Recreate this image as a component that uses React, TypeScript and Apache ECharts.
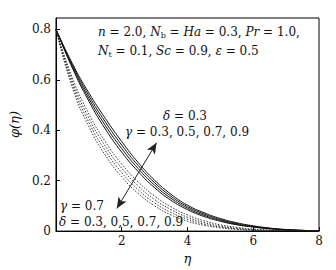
import React, { useEffect, useRef } from "react";
import * as echarts from "echarts";

const eta = [0, 0.5, 1, 1.5, 2, 2.5, 3, 3.5, 4, 4.5, 5, 5.5, 6, 6.5, 7, 7.5, 8];

// solid: delta = 0.3, gamma = 0.3, 0.5, 0.7, 0.9
const solidG03 = [0.8, 0.646, 0.515, 0.405, 0.313, 0.236, 0.172, 0.122, 0.085, 0.058, 0.039, 0.025, 0.016, 0.009, 0.005, 0.002, 0];
const solidG05 = [0.8, 0.652, 0.526, 0.419, 0.327, 0.248, 0.182, 0.13, 0.091, 0.063, 0.042, 0.027, 0.017, 0.01, 0.005, 0.002, 0];
const solidG07 = [0.8, 0.658, 0.537, 0.433, 0.341, 0.26, 0.192, 0.138, 0.097, 0.068, 0.046, 0.03, 0.019, 0.011, 0.006, 0.003, 0];
const solidG09 = [0.8, 0.664, 0.548, 0.447, 0.355, 0.272, 0.202, 0.146, 0.103, 0.073, 0.05, 0.033, 0.021, 0.012, 0.006, 0.003, 0];

// dotted: gamma = 0.7, delta = 0.3, 0.5, 0.7, 0.9
const dotD03 = [0.8, 0.607, 0.465, 0.355, 0.266, 0.195, 0.139, 0.096, 0.064, 0.041, 0.025, 0.015, 0.008, 0.004, 0.002, 0.001, 0];
const dotD05 = [0.8, 0.594, 0.448, 0.337, 0.249, 0.179, 0.125, 0.085, 0.055, 0.034, 0.02, 0.011, 0.006, 0.003, 0.001, 0.0005, 0];
const dotD07 = [0.8, 0.581, 0.431, 0.319, 0.232, 0.164, 0.112, 0.074, 0.047, 0.028, 0.016, 0.009, 0.004, 0.002, 0.001, 0, 0];
const dotD09 = [0.8, 0.568, 0.414, 0.301, 0.215, 0.149, 0.1, 0.064, 0.039, 0.023, 0.013, 0.007, 0.003, 0.001, 0.0005, 0, 0];

const yTicks = [0, 0.2, 0.4, 0.6, 0.8];
const xTicks = [2, 4, 6, 8];

const FONT = "DejaVu Serif";

export default function App() {
  const ref = useRef<HTMLDivElement>(null);
  useEffect(() => {
    if (!ref.current) return;
    const chart = echarts.init(ref.current, null, { renderer: "svg" });
    const zip = (ys: number[]) => eta.map((x, i) => [x, ys[i]]);
    const solid = [solidG03, solidG05, solidG07, solidG09];
    const dotted = [dotD03, dotD05, dotD07, dotD09];
    const series: any[] = [];
    solid.forEach((s) =>
      series.push({
        type: "line",
        data: zip(s),
        showSymbol: false,
        smooth: 0.5,
        lineStyle: { color: "#111", width: 1, type: "solid" },
        silent: true,
      })
    );
    dotted.forEach((s) =>
      series.push({
        type: "line",
        data: zip(s),
        showSymbol: false,
        smooth: 0.5,
        lineStyle: { color: "#222", width: 0.9, type: [1.5, 1.5] },
        silent: true,
      })
    );
    series[0].markLine = {
      silent: true,
      symbol: ["arrow", "arrow"],
      symbolSize: [7, 11],
      label: { show: false },
      lineStyle: { color: "#222", width: 1, type: "solid" },
      data: [[{ coord: [1.85, 0.09] }, { coord: [3.06, 0.35] }]],
    };
    const rich = {
      i: { fontFamily: FONT, fontStyle: "italic", fontSize: 12, color: "#111" },
      s: { fontFamily: FONT, fontSize: 8, color: "#111", padding: [7, 0, 0, 0] },
    };
    const rich2 = {
      i: { fontFamily: FONT, fontStyle: "italic", fontSize: 12, color: "#111" },
    };
    chart.setOption({
      animation: false,
      backgroundColor: "#fff",
      grid: {
        left: 50,
        right: 17,
        top: 18,
        bottom: 37,
        show: true,
        borderColor: "#000",
        borderWidth: 1,
      },
      xAxis: {
        type: "value",
        min: 0,
        max: 8,
        interval: 2,
        name: "η",
        nameLocation: "middle",
        nameGap: 19,
        nameTextStyle: { fontFamily: FONT, fontStyle: "italic", fontSize: 13, color: "#111" },
        axisLine: { show: true, lineStyle: { color: "#000", width: 1 } },
        axisTick: { show: true, inside: true, length: 4, lineStyle: { color: "#000" } },
        axisLabel: {
          showMinLabel: false,
          fontFamily: FONT,
          fontSize: 12,
          color: "#111",
          margin: 4,
          formatter: (v: number) => (xTicks.includes(v) ? String(v) : ""),
        },
        splitLine: { show: false },
      },
      yAxis: {
        type: "value",
        min: 0,
        max: 0.845,
        interval: 0.2,
        name: "φ(η)",
        nameLocation: "middle",
        nameGap: 33,
        nameRotate: 90,
        nameTextStyle: { fontFamily: FONT, fontStyle: "italic", fontSize: 13, color: "#111" },
        axisLine: { show: true, lineStyle: { color: "#000", width: 1 } },
        axisTick: { show: true, inside: true, length: 4, lineStyle: { color: "#000" } },
        axisLabel: {
          showMaxLabel: false,
          fontFamily: FONT,
          fontSize: 12,
          color: "#111",
          margin: 5,
          formatter: (v: number) => {
            const t = yTicks.find((k) => Math.abs(k - v) < 1e-6);
            return t === undefined ? "" : t === 0 ? "0" : t.toFixed(1);
          },
        },
        splitLine: { show: false },
      },
      graphic: [
        {
          type: "text",
          left: 98,
          top: 26,
          silent: true,
          style: {
            text: "{i|n} = 2.0, {i|N}{s|b} = {i|Ha} = 0.3, {i|Pr} = 1.0,",
            fontFamily: FONT,
            fontSize: 12,
            fill: "#111",
            rich,
          },
        },
        {
          type: "text",
          left: 98,
          top: 45,
          silent: true,
          style: {
            text: "{i|N}{s|t} = 0.1, {i|Sc} = 0.9, {i|ε} = 0.5",
            fontFamily: FONT,
            fontSize: 12,
            fill: "#111",
            rich,
          },
        },
        {
          type: "text",
          left: 163,
          top: 110,
          silent: true,
          style: { text: "{i|δ} = 0.3", fontFamily: FONT, fontSize: 12, fill: "#111", rich: rich2 },
        },
        {
          type: "text",
          left: 125,
          top: 126,
          silent: true,
          style: { text: "{i|γ} = 0.3, 0.5, 0.7, 0.9", fontFamily: FONT, fontSize: 12, fill: "#111", rich: rich2 },
        },
        {
          type: "text",
          left: 60,
          top: 200,
          silent: true,
          style: { text: "{i|γ} = 0.7", fontFamily: FONT, fontSize: 12, fill: "#111", rich: rich2 },
        },
        {
          type: "text",
          left: 59,
          top: 216,
          silent: true,
          style: { text: "{i|δ} = 0.3, 0,5, 0.7, 0.9", fontFamily: FONT, fontSize: 12, fill: "#111", rich: rich2 },
        },
      ],
      series,
    });
    return () => chart.dispose();
  }, []);
  return (
    <div
      ref={ref}
      style={{ position: "fixed", left: 0, top: 0, width: 336, height: 270, background: "#fff" }}
    />
  );
}
